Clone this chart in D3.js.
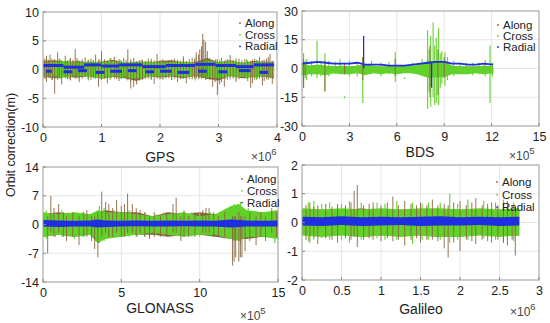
<!DOCTYPE html>
<html>
<head>
<meta charset="utf-8">
<script src="https://cdn.jsdelivr.net/npm/d3@7"></script>
<style>
  body { margin: 0; background: #fff; }
  svg { display: block; font-family: "Liberation Sans", Arial, sans-serif; }
</style>
</head>
<body>
<svg id="chart" width="550" height="323"></svg>
<script>
// ---- GPS (x in 10^6 s) ----
const gpsT = [0,0.2,0.4,0.6,0.8,1,1.2,1.4,1.6,1.8,2,2.2,2.4,2.6,2.8,3,3.2,3.4,3.6,3.8,3.95];
const gpsAlongHi = [1.5,1.6,1.3,1.5,1.2,1.4,1.7,1.1,1.4,1.2,1.5,1.6,1.2,1.3,2.0,1.2,1.6,1.1,1.5,1.3,1.4];
const gpsAlongLo = [-1.2,-1.5,-1.3,-1.4,-1.1,-1.6,-1.3,-1.5,-2.0,-1.2,-1.4,-1.2,-1.5,-1.1,-1.6,-1.9,-1.1,-1.5,-1.3,-1.2,-1.5];
const gpsCrossHi = [1.4,1.3,1.5,1.2,1.4,1.3,1.5,1.2,1.3,1.4,1.2,1.3,1.4,1.2,1.6,1.3,1.5,1.2,1.3,1.4,1.2];
const gpsCrossLo = [-1.3,-1.2,-1.4,-1.1,-1.3,-1.5,-1.2,-1.4,-1.6,-1.3,-1.2,-1.1,-1.3,-1.2,-1.4,-1.5,-1.2,-1.3,-1.4,-1.2,-1.3];
const gpsAlongSpikes = [[0.03,-1.6,1.9],[0.06,-2.2,2.4],[0.09,-1.4,1.7],[0.12,-1.5,2.6],[0.16,-1.8,1.6],[0.2,-4.2,1.8],[0.25,-1.8,3.0],[0.28,-1.5,1.9],[0.32,-2.6,1.6],[0.38,-1.5,2.4],[0.42,-1.7,1.6],[0.47,-1.9,2.0],[0.51,-1.4,1.7],[0.55,-1.6,3.6],[0.58,-1.5,2.0],[0.62,-2.2,1.5],[0.67,-1.6,1.8],[0.72,-1.4,2.1],[0.77,-1.7,1.6],[0.82,-1.8,1.9],[0.86,-1.5,1.7],[0.9,-1.6,2.6],[0.95,-3.0,1.7],[1.0,-1.8,3.2],[1.05,-1.6,1.8],[1.1,-2.4,1.5],[1.16,-1.5,1.9],[1.22,-1.6,2.2],[1.26,-1.7,1.6],[1.3,-2.0,1.8],[1.34,-1.6,1.5],[1.38,-1.5,2.0],[1.42,-1.7,1.7],[1.45,-1.9,3.5],[1.5,-3.3,1.6],[1.55,-3.0,2.0],[1.6,-2.6,1.4],[1.65,-1.9,1.6],[1.7,-1.8,1.7],[1.75,-1.6,1.5],[1.8,-1.6,1.9],[1.85,-1.8,1.6],[1.9,-2.5,1.6],[1.95,-1.6,2.7],[2.0,-1.7,1.6],[2.05,-1.8,1.8],[2.1,-1.6,1.5],[2.15,-1.5,1.6],[2.2,-1.8,1.7],[2.25,-1.6,1.9],[2.3,-2.2,1.7],[2.35,-1.7,1.5],[2.4,-1.6,2.3],[2.45,-2.4,1.5],[2.5,-1.6,1.8],[2.55,-1.7,2.0],[2.59,-1.5,1.7],[2.62,-1.6,3.0],[2.66,-1.7,2.6],[2.68,-1.5,3.5],[2.71,-1.6,4.0],[2.73,-1.4,6.2],[2.75,-1.5,5.2],[2.78,-1.8,4.8],[2.81,-1.6,3.2],[2.85,-1.8,2.0],[2.9,-3.0,1.7],[2.94,-2.2,1.6],[2.98,-4.4,1.8],[3.02,-2.6,1.6],[3.05,-2.2,2.0],[3.1,-3.0,1.5],[3.15,-1.8,1.8],[3.2,-1.7,2.5],[3.25,-1.6,1.7],[3.3,-2.2,1.6],[3.35,-1.7,1.9],[3.4,-1.5,1.6],[3.45,-1.6,1.8],[3.5,-2.0,1.6],[3.55,-3.2,1.5],[3.58,-2.4,1.7],[3.62,-1.8,1.9],[3.66,-1.6,1.6],[3.7,-1.6,2.2],[3.75,-2.8,1.6],[3.78,-2.0,1.7],[3.82,-1.6,1.8],[3.85,-1.8,2.2],[3.88,-1.5,2.7],[3.92,-2.5,1.5]];
const gpsCrossSpikes = [[0.05,-1.6,1.7],[0.15,-1.8,1.9],[0.3,-1.6,1.7],[0.45,-1.7,1.8],[0.6,-1.5,1.7],[0.78,-1.9,1.7],[0.97,-1.6,1.8],[1.15,-1.8,2.0],[1.32,-1.6,1.7],[1.5,-2.1,1.8],[1.68,-1.6,1.7],[1.85,-1.7,1.9],[2.02,-1.6,1.7],[2.2,-1.8,1.7],[2.4,-1.6,1.8],[2.6,-1.9,2.1],[2.78,-1.7,1.9],[2.95,-2.0,1.8],[3.12,-1.6,1.7],[3.3,-1.7,2.0],[3.48,-1.6,1.8],[3.65,-1.8,1.7],[3.82,-1.7,1.8]];
const gpsRadialSegs = [[0,0.35,0.7],[0.35,0.7,0.4],[0.7,1.0,0.8],[1.0,1.3,0.6],[1.3,1.7,0.8],[1.7,2.1,0.5],[2.1,2.6,0.7],[2.6,2.95,0.9],[2.95,3.3,0.7],[3.3,3.6,0.5],[3.6,3.95,0.8],
  [0.05,0.15,-0.3],[0.35,0.5,-0.4],[0.6,0.75,-0.2],[0.9,1.05,-0.5],[1.15,1.35,-0.3],[1.45,1.6,-0.2],[1.75,1.9,-0.4],[2.0,2.2,-0.3],[2.3,2.5,-0.5],[2.65,2.8,-0.3],[3.0,3.15,-0.4],[3.35,3.55,-0.2],[3.7,3.85,-0.5]];

// ---- BDS (x in 10^5 s) ----
const bdsT = [0,0.5,1,1.5,2,2.5,3,3.5,4,4.5,5,5.5,6,6.5,7,7.5,8,8.5,9,9.5,10,10.5,11,11.5,12.1];
const bdsAlongHi = [2,1.5,2,1.5,1,1.5,1,1.5,2,1,1,1,1,1,1,2,4,3,3,1.5,1,1,1,1.5,1];
const bdsAlongLo = [-2.5,-2.5,-2,-2.5,-2,-2,-2.5,-2,-2.5,-2,-2,-2,-2,-2,-2,-2.5,-4.5,-3.5,-3.5,-2.5,-2,-2,-2,-2,-2];
const bdsCrossHi = [2.5,1.5,2,1.5,1,1.5,1,1.5,2,1.5,1,1,1,1.5,1.5,2.5,4,3.5,4,1.5,1,1,1,1.5,1];
const bdsCrossLo = [-3.5,-3,-3,-3.5,-2.5,-3,-3,-2.5,-3.5,-2.5,-3,-2.5,-3,-2.5,-2.5,-3.5,-5,-4.5,-4.5,-3,-3,-3,-2.5,-3,-2.5];
const bdsRadial = [2.5,3,3.5,3,2.5,2.5,2.5,3,2,2,2,1.5,1.5,1.5,2,2.5,3,3.5,3.5,2.5,2.5,2,2,2.5,2];
const bdsCrossSpikes = [[0.1,-10,8],[0.3,-6,5],[0.6,-4,3.5],[0.95,-5,14.5],[1.2,-4,4],[1.45,-12,8],[1.7,-4,4],[2.1,-3,3.5],[2.4,-3,5],[2.7,-15.5,-14.5],[3.0,-4,4],[3.5,-4,3],[3.85,-18,6],[4.4,-3,4],[5.0,-4,3],[5.5,-3,3.5],[5.9,-7,8.5],[6.5,-5.5,-4.5],[7.0,-3,3],[7.6,-4,5],[7.95,-21,20],[8.05,-12,10],[8.15,-20,17],[8.3,-15,24],[8.4,-19,12],[8.5,-18,16],[8.65,-19,21],[8.75,-10,8],[8.85,-8,9],[9.05,-9,8.5],[9.2,-6,6],[9.6,-4,4],[10.0,-3,3],[10.4,-3,3],[10.8,-3.5,3],[11.2,-3,3],[11.6,-4,4.5],[11.9,-18,12],[12.05,-4,3]];
const bdsAlongSpikes = [[0.1,-10,5],[0.2,-5,4],[1.45,-12,4],[2.7,-3,3],[3.85,-6,6],[5.9,-4,5],[8.1,-15,12],[8.6,-14,10],[9.0,-5,6]];
const bdsRadialSpikes = [[3.9,0,17],[8.2,-10,3]];

// ---- GLONASS (x in 10^5 s) ----
const glnT = [0,1,2,3,3.5,4,5,6,7,8,9,10,11,12,12.5,13,14,15];
const glnAlongHi = [2.5,3,2.5,2.5,3,3.5,3,3,2,3,2.5,3,2.5,2.5,3.5,3,2.5,2.5];
const glnAlongLo = [-3,-2.5,-3,-2.5,-4.5,-3,-2.5,-2.5,-2.5,-3,-2.5,-2.5,-3,-3.5,-3.5,-3.5,-3,-2.5];
const glnCrossHi = [3,2.5,3,2.5,3.5,3,3,2.5,2,2.5,3,2,2.5,4.5,5,3.5,3,3.5];
const glnCrossLo = [-3,-2.5,-3,-2.5,-4.5,-3.5,-3,-2.5,-2,-2.5,-3,-2.5,-2.5,-3.5,-4,-3,-3,-3.5];
const glnRadHi = [1.1,1.0,0.9,1.0,1.2,1.0,0.9,1.0,0.9,1.0,0.9,1.0,0.9,1.2,1.1,1.0,0.9,1.0];
const glnRadLo = [-0.5,-0.6,-0.5,-0.5,-0.7,-0.6,-0.5,-0.4,-0.5,-0.5,-0.4,-0.5,-0.5,-0.7,-0.6,-0.5,-0.5,-0.5];
const glnAlongSpikes = [[0.3,-7,2],[0.5,-2,7],[0.7,-3,4],[1.0,-2,5],[1.3,-3,3],[1.5,-4,2],[1.9,-3,3],[2.3,-5,2],[2.6,-3,3],[2.8,-3,3.5],[3.1,-4,2],[3.3,-6,2],[3.5,-8,3],[3.75,-3,8],[4.0,-2,5.5],[4.2,-3,5],[4.45,-3,4],[4.7,-2,6],[5.0,-3,4.5],[5.2,-3,5],[5.4,-2,7.5],[5.7,-2,5],[5.95,-3,4],[6.2,-2,3.5],[6.5,-3,3],[6.8,-3.5,2],[7.1,-3,3],[7.5,-3,2],[7.9,-3,3],[8.3,-2,5],[8.5,-2,6.5],[8.8,-4,2],[9.0,-3,3],[9.3,-3,2],[9.7,-3,3],[10.2,-2,3.5],[10.4,-2,4],[10.6,-2,4],[10.9,-3,3],[11.2,-3,2],[11.6,-3,3],[12.1,-10,2],[12.2,-9,2],[12.3,-8,2],[12.5,-9,3],[12.6,-8,2],[12.7,-8,2],[12.9,-6.5,2],[13.2,-4,3],[13.6,-5,2],[13.9,-3,3],[14.2,-4,2],[14.6,-2,4],[14.9,-3,3]];
const glnCrossSpikes = [[0.2,-3.5,3.5],[0.8,-3,3],[1.2,-3,3.5],[1.6,-3,3],[2.0,-3.5,3],[2.5,-3,3],[3.6,-4.5,4.5],[3.9,-4,4],[4.5,-3,3.5],[5.1,-3,3],[5.5,-3,3.5],[6.0,-3,3],[6.5,-3,3],[7.2,-2.5,2.5],[7.7,-3,3],[8.2,-3,3],[9.0,-3,3.5],[9.5,-3,3],[10.0,-3,3],[10.7,-3,3],[11.5,-3,3],[12.2,-4,5],[12.6,-4.5,5.5],[13.1,-3.5,4],[13.5,-3,3],[14.0,-3,3],[14.4,-3,3],[14.8,-4.5,3.5]];

// ---- Galileo (x in 10^6 s) ----
const galT = [0,0.25,0.5,0.75,1,1.25,1.5,1.75,2,2.25,2.5,2.75];
const galAlongHi = [0.4,0.45,0.4,0.5,0.4,0.45,0.4,0.45,0.45,0.4,0.45,0.4];
const galAlongLo = [-0.4,-0.45,-0.4,-0.5,-0.45,-0.4,-0.45,-0.5,-0.45,-0.4,-0.45,-0.45];
const galCrossHi = [0.5,0.45,0.5,0.45,0.5,0.45,0.5,0.5,0.45,0.5,0.45,0.5];
const galCrossLo = [-0.45,-0.5,-0.45,-0.5,-0.45,-0.5,-0.45,-0.5,-0.5,-0.45,-0.5,-0.45];
const galRadHi = [0.2,0.18,0.22,0.18,0.2,0.18,0.2,0.22,0.18,0.2,0.18,0.2];
const galRadLo = [-0.1,-0.12,-0.09,-0.12,-0.1,-0.09,-0.12,-0.1,-0.1,-0.09,-0.12,-0.1];
const galAlongSpikes = [[0.05,-0.6,0.6],[0.1,-0.7,0.7],[0.15,-0.5,0.55],[0.2,-0.75,0.6],[0.3,-0.55,0.65],[0.38,-0.6,0.55],[0.45,-0.7,0.65],[0.55,-0.55,0.6],[0.62,-0.6,0.7],[0.66,-0.5,1.1],[0.7,-0.85,1.3],[0.78,-0.6,0.6],[0.85,-0.55,0.65],[0.9,-0.6,0.7],[1.0,-0.65,0.6],[1.08,-0.55,0.7],[1.15,-0.65,0.9],[1.22,-0.6,0.6],[1.3,-0.8,0.75],[1.38,-0.6,0.65],[1.45,-0.55,0.6],[1.5,-0.7,0.7],[1.58,-0.6,0.6],[1.65,-0.6,0.8],[1.72,-0.65,0.6],[1.8,-0.9,0.65],[1.85,-1.22,0.6],[1.92,-0.7,0.7],[2.0,-1.0,0.75],[2.08,-0.6,0.6],[2.15,-0.65,0.7],[2.2,-0.75,0.85],[2.28,-0.6,0.6],[2.35,-0.65,0.65],[2.4,-0.7,0.7],[2.48,-0.6,0.6],[2.55,-0.7,0.65],[2.6,-0.8,0.75],[2.66,-0.6,0.6],[2.7,-1.15,0.5]];
const galCrossSpikes = [[0.08,-0.65,0.7],[0.15,-0.6,0.75],[0.25,-0.55,0.65],[0.35,-0.6,0.7],[0.5,-0.6,0.65],[0.6,-0.7,0.75],[0.75,-0.6,0.7],[0.95,-0.55,0.7],[1.05,-0.6,0.65],[1.2,-0.6,0.75],[1.4,-0.75,0.7],[1.52,-0.6,0.65],[1.6,-0.6,0.7],[1.75,-0.6,0.7],[1.87,-0.7,1.0],[1.97,-0.6,0.65],[2.1,-0.6,0.8],[2.3,-0.55,0.75],[2.45,-0.6,0.7],[2.55,-0.7,0.8],[2.68,-0.65,0.7]];

const seriesNames = ["Along", "Cross", "Radial"];
const colAlong = "#8a6440", colCross = "#62d22a", colRadial = "#1e2ee0";
const seriesColors = [colAlong, colCross, colRadial];

const svg = d3.select("#chart");

function drawPanel(p) {
  const x = d3.scaleLinear().domain([0, p.xMax]).range([p.left, p.right]);
  const y = d3.scaleLinear().domain([-p.yMax, p.yMax]).range([p.bottom, p.top]);
  const g = svg.append("g");

  // grid
  g.append("g").selectAll("line").data(p.xTicks.slice(1, -1)).join("line")
    .attr("x1", d => x(d)).attr("x2", d => x(d))
    .attr("y1", p.top).attr("y2", p.bottom)
    .attr("stroke", "#e6e6e6");
  g.append("g").selectAll("line").data(p.yTicks.slice(1, -1)).join("line")
    .attr("y1", d => y(d)).attr("y2", d => y(d))
    .attr("x1", p.left).attr("x2", p.right)
    .attr("stroke", "#e6e6e6");

  // clip
  const id = "clip" + p.name;
  svg.append("clipPath").attr("id", id).append("rect")
    .attr("x", p.left).attr("y", p.top)
    .attr("width", p.right - p.left).attr("height", p.bottom - p.top);
  const d = g.append("g").attr("clip-path", `url(#${id})`);

  const band = (hi, lo) => d3.area()
    .x((v, i) => x(p.t[i]))
    .y0((v, i) => y(lo[i]))
    .y1(v => y(v))(hi);
  const spikes = (list, col, w) => d.append("g").selectAll("line").data(list).join("line")
    .attr("x1", s => x(s[0])).attr("x2", s => x(s[0]))
    .attr("y1", s => y(s[1])).attr("y2", s => y(s[2]))
    .attr("stroke", col).attr("stroke-width", w);

  d.append("path").attr("d", band(p.alongHi, p.alongLo)).attr("fill", colAlong);
  d.append("path").attr("d", band(p.crossHi, p.crossLo)).attr("fill", colCross);
  spikes(p.crossSpikes, colCross, 1.1);
  spikes(p.alongSpikes, colAlong, 0.9);

  // radial
  if (p.radHi) {
    d.append("path").attr("d", band(p.radHi, p.radLo)).attr("fill", colRadial);
  }
  if (p.radLine) {
    d.append("path")
      .attr("d", d3.line().x((v, i) => x(p.t[i])).y(v => y(v))(p.radLine))
      .attr("fill", "none").attr("stroke", colRadial).attr("stroke-width", 1.8);
  }
  if (p.radSegs) {
    d.append("g").selectAll("line").data(p.radSegs).join("line")
      .attr("x1", s => x(s[0])).attr("x2", s => x(s[1]))
      .attr("y1", s => y(s[2])).attr("y2", s => y(s[2]))
      .attr("stroke", colRadial).attr("stroke-width", 3);
  }
  if (p.radSpikes) spikes(p.radSpikes, colRadial, 1.3);

  // frame
  g.append("rect")
    .attr("x", p.left).attr("y", p.top)
    .attr("width", p.right - p.left).attr("height", p.bottom - p.top)
    .attr("fill", "none").attr("stroke", "#999").attr("stroke-width", 1);

  // inward ticks
  g.append("g").selectAll("line").data(p.xTicks).join("line")
    .attr("x1", t => x(t)).attr("x2", t => x(t))
    .attr("y1", p.bottom).attr("y2", p.bottom - 3).attr("stroke", "#888");
  g.append("g").selectAll("line").data(p.yTicks).join("line")
    .attr("y1", t => y(t)).attr("y2", t => y(t))
    .attr("x1", p.left).attr("x2", p.left + 3).attr("stroke", "#888");

  // axes (labels only)
  const xa = g.append("g").attr("transform", `translate(0,${p.bottom})`)
    .call(d3.axisBottom(x).tickValues(p.xTicks).tickSize(0).tickPadding(6).tickFormat(v => String(v)));
  const ya = g.append("g").attr("transform", `translate(${p.left},0)`)
    .call(d3.axisLeft(y).tickValues(p.yTicks).tickSize(0).tickPadding(4).tickFormat(v => String(v)));
  [xa, ya].forEach(a => {
    a.select(".domain").remove();
    a.selectAll("text").attr("font-size", 12.5).attr("fill", "#222")
      .attr("font-family", '"Liberation Sans", Arial, sans-serif');
  });

  // system name
  g.append("text").attr("x", p.nameX).attr("y", p.nameY)
    .attr("text-anchor", "middle").attr("font-size", 14).attr("fill", "#222")
    .text(p.name);

  // exponent label
  const ex = g.append("text").attr("x", p.expX).attr("y", p.expY)
    .attr("font-size", 12).attr("fill", "#444");
  ex.append("tspan").text("\u00d710");
  ex.append("tspan").attr("dy", -6).attr("font-size", 9.5).text(p.expo);

  // legend
  const lg = g.append("g");
  seriesNames.forEach((s, i) => {
    const ly = p.legY + i * p.legGap;
    lg.append("circle").attr("cx", p.legX - 5).attr("cy", ly - 4).attr("r", 0.9)
      .attr("fill", seriesColors[i]);
    lg.append("text").attr("x", p.legX).attr("y", ly)
      .attr("font-size", 11.5).attr("fill", "#222").text(s);
  });
}

drawPanel({
  name: "GPS", left: 43, right: 277, top: 12, bottom: 127,
  xMax: 4, yMax: 10, xTicks: [0, 1, 2, 3, 4], yTicks: [-10, -5, 0, 5, 10],
  t: gpsT, alongHi: gpsAlongHi, alongLo: gpsAlongLo, crossHi: gpsCrossHi, crossLo: gpsCrossLo,
  alongSpikes: gpsAlongSpikes, crossSpikes: gpsCrossSpikes, radSegs: gpsRadialSegs,
  nameX: 160, nameY: 162, expX: 251, expY: 161, expo: "6",
  legX: 245, legY: 27, legGap: 11.7
});

drawPanel({
  name: "BDS", left: 302, right: 539, top: 11, bottom: 126,
  xMax: 15, yMax: 30, xTicks: [0, 3, 6, 9, 12, 15], yTicks: [-30, -15, 0, 15, 30],
  t: bdsT, alongHi: bdsAlongHi, alongLo: bdsAlongLo, crossHi: bdsCrossHi, crossLo: bdsCrossLo,
  alongSpikes: bdsAlongSpikes, crossSpikes: bdsCrossSpikes, radLine: bdsRadial, radSpikes: bdsRadialSpikes,
  nameX: 420, nameY: 157, expX: 509, expY: 160, expo: "5",
  legX: 503, legY: 29, legGap: 11
});

drawPanel({
  name: "GLONASS", left: 43, right: 278, top: 167, bottom: 282,
  xMax: 15, yMax: 14, xTicks: [0, 5, 10, 15], yTicks: [-14, -7, 0, 7, 14],
  t: glnT, alongHi: glnAlongHi, alongLo: glnAlongLo, crossHi: glnCrossHi, crossLo: glnCrossLo,
  radHi: glnRadHi, radLo: glnRadLo,
  alongSpikes: glnAlongSpikes, crossSpikes: glnCrossSpikes,
  nameX: 160, nameY: 313, expX: 240, expY: 320, expo: "5",
  legX: 247, legY: 183, legGap: 11.8
});

drawPanel({
  name: "Galileo", left: 302, right: 539, top: 165, bottom: 280,
  xMax: 3, yMax: 2, xTicks: [0, 0.5, 1, 1.5, 2, 2.5, 3], yTicks: [-2, -1, 0, 1, 2],
  t: galT, alongHi: galAlongHi, alongLo: galAlongLo, crossHi: galCrossHi, crossLo: galCrossLo,
  radHi: galRadHi, radLo: galRadLo,
  alongSpikes: galAlongSpikes, crossSpikes: galCrossSpikes,
  nameX: 421, nameY: 314, expX: 510, expY: 316, expo: "6",
  legX: 502, legY: 186, legGap: 12.7
});

// shared y label
svg.append("text")
  .attr("transform", "translate(15,145) rotate(-90)")
  .attr("text-anchor", "middle").attr("font-size", 12.5).attr("fill", "#222")
  .text("Orbit correction(m)");
</script>
</body>
</html>
